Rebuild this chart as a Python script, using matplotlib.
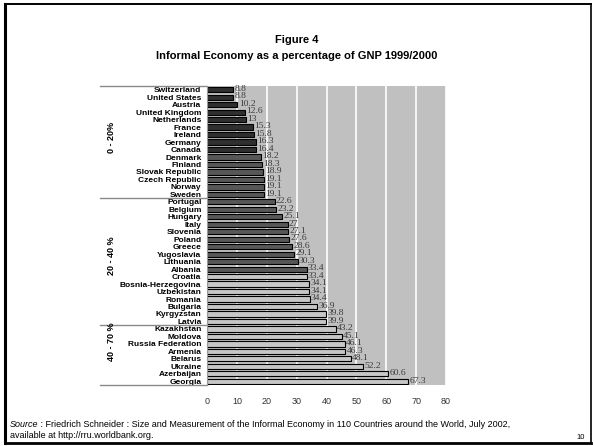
import matplotlib.pyplot as plt
from matplotlib.lines import Line2D
import numpy as np

countries = [
    "Switzerland", "United States", "Austria", "United Kingdom", "Netherlands",
    "France", "Ireland", "Germany", "Canada", "Denmark", "Finland",
    "Slovak Republic", "Czech Republic", "Norway", "Sweden",
    "Portugal", "Belgium", "Hungary", "Italy", "Slovenia", "Poland", "Greece",
    "Yugoslavia", "Lithuania", "Albania", "Croatia", "Bosnia-Herzegovina",
    "Uzbekistan", "Romania", "Bulgaria", "Kyrgyzstan", "Latvia",
    "Kazakhstan", "Moldova", "Russia Federation", "Armenia", "Belarus",
    "Ukraine", "Azerbaijan", "Georgia",
]
values = [
    8.8, 8.8, 10.2, 12.6, 13, 15.3, 15.8, 16.3, 16.4, 18.2, 18.3, 18.9, 19.1,
    19.1, 19.1, 22.6, 23.2, 25.1, 27, 27.1, 27.6, 28.6, 29.1, 30.3, 33.4, 33.4,
    34.1, 34.1, 34.4, 36.9, 39.8, 39.9, 43.2, 45.1, 46.1, 46.3, 48.1, 52.2,
    60.6, 67.3,
]
# shade bands: 0 = dark, 1 = mid, 2 = light
shade = [0] * 9 + [1] * 16 + [2] * 15
shade_colors = ["#2f2f2f", "#575757", "#c6c6c6"]
groups = ["0 - 20%", "20 - 40 %", "40 - 70 %"]
group_breaks = [15, 32]
xticks = [0, 10, 20, 30, 40, 50, 60, 70, 80]

W, H = 594, 446
fig = plt.figure(figsize=(W / 100, H / 100), dpi=100)

# pixel -> figure coordinates
def fx(px):
    return px / W

def fy(py):
    return 1 - py / H

left, right, top, bottom = 207, 446, 86, 385
ax = fig.add_axes([fx(left), fy(bottom), fx(right - left), (bottom - top) / H])
ax.set_facecolor("#c0c0c0")

y = np.arange(len(countries))
ax.barh(y, values, height=0.7, color=[shade_colors[s] for s in shade],
        edgecolor="black", linewidth=0.8, zorder=3)
for yi, v in zip(y, values):
    ax.text(v + 0.4, yi - 0.1, f"{v:g}", fontsize=6.8, family="Liberation Serif",
            color="#3a3a3a", va="center", ha="left", zorder=4)

ax.set_xlim(0, 80)
ax.set_ylim(len(countries) - 0.5, -0.5)
ax.set_xticks(xticks)
ax.set_xticklabels([str(t) for t in xticks], fontsize=6.5, color="#333333",
                   family="Liberation Sans")
ax.tick_params(axis="x", length=0, pad=9)
ax.set_yticks(y)
ax.set_yticklabels(countries, fontsize=6.0, fontweight="bold", family="Liberation Sans")
ax.tick_params(axis="y", length=0, pad=4)
ax.grid(axis="x", color="white", linewidth=1.2, zorder=1)
ax.set_axisbelow(True)
for s in ax.spines.values():
    s.set_visible(False)

# group separators and labels on the left
slot = (bottom - top) / len(countries)
for b in [0] + group_breaks + [len(countries)]:
    yy = top + b * slot
    fig.add_artist(Line2D([fx(100), fx(left)], [fy(yy), fy(yy)],
                          color="#8a8a8a", linewidth=1.0))
fig.add_artist(Line2D([fx(left), fx(left)], [fy(top), fy(bottom)],
                      color="#9a9a9a", linewidth=0.8))
for lab, py in zip(groups, [137, 256, 342]):
    fig.text(fx(112), fy(py), lab, rotation=90, fontsize=6.5, fontweight="bold",
             family="Liberation Sans", ha="center", va="center")

# titles
fig.text(0.5, fy(40), "Figure 4", fontsize=8, fontweight="bold",
         family="Liberation Sans", ha="center", va="center")
fig.text(0.5, fy(56), "Informal Economy as a percentage of GNP 1999/2000",
         fontsize=8, fontweight="bold", family="Liberation Sans",
         ha="center", va="center")

# source note
src = fig.text(fx(10), fy(427), "Source", fontsize=6.5, style="italic",
               family="Liberation Sans", va="baseline")
ax.annotate(" : Friedrich Schneider : Size and Measurement of the Informal Economy "
            "in 110 Countries around the World, July 2002,",
            xy=(1, 0), xycoords=src, fontsize=6.5, family="Liberation Sans",
            va="bottom", ha="left", annotation_clip=False)
fig.text(fx(10), fy(438), "available at http://rru.worldbank.org.", fontsize=6.5,
         family="Liberation Sans", va="baseline")
fig.text(fx(585), fy(439), "10", fontsize=5.5, family="Liberation Sans",
         ha="right", va="baseline")

# slide border
fig.add_artist(Line2D([fx(5), fx(5)], [fy(4), fy(443)], color="black", linewidth=2.2))
fig.add_artist(Line2D([fx(5), fx(591)], [fy(4), fy(4)], color="black", linewidth=1.4))
fig.add_artist(Line2D([fx(591), fx(591)], [fy(4), fy(443)], color="black", linewidth=1.2))
fig.add_artist(Line2D([fx(5), fx(591)], [fy(443), fy(443)], color="black", linewidth=2.0))

fig.savefig("out.png", dpi=100)
